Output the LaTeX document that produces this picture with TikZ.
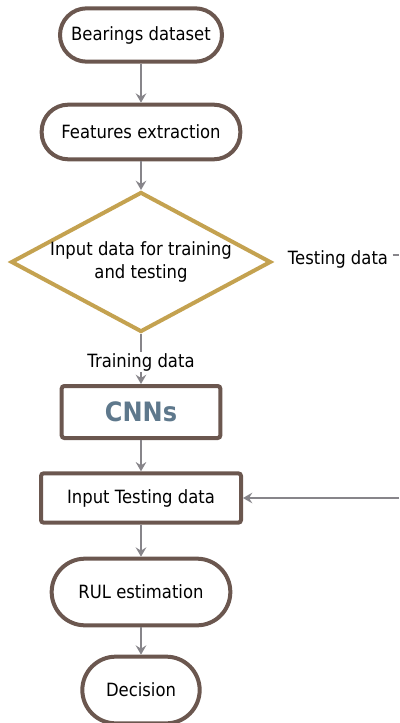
\documentclass[tikz,border=0pt]{standalone}
\usepackage{fontspec}
\setmainfont{DejaVu Sans}[FakeStretch=0.9]
\usepackage{tikz}
\usetikzlibrary{arrows.meta, positioning, shapes.geometric}
\definecolor{fcbrown}{RGB}{107,87,79}
\definecolor{fcgold}{RGB}{196,162,80}
\definecolor{fcgray}{RGB}{135,133,138}
\definecolor{fcslate}{RGB}{94,120,140}

\begin{document}
\begin{tikzpicture}[x=0.75pt, y=-0.75pt,
  every node/.style={font=\fontsize{13.7}{17}\selectfont},
  pill/.style={draw=fcbrown, line width=3pt, fill=white, align=center, inner sep=2pt},
  block/.style={draw=fcbrown, line width=3pt, fill=white, rounded corners=2pt, align=center},
  flow/.style={-{Stealth[length=7pt, width=8pt, inset=2.5pt]}, fcgray, line width=1pt}]
  \useasboundingbox (0,0) rectangle (399,723);

  % Start: dataset
  \node[pill, rounded corners=20pt, minimum width=121.5pt, minimum height=40pt] (data) at (141,35)
    {Bearings dataset};
  % Feature extraction
  \node[pill, rounded corners=20pt, minimum width=149pt, minimum height=41pt] (feat) at (141,132)
    {Features extraction};
  % Split of the data
  \node[diamond, draw=fcgold, line width=3pt, aspect=1.83, inner sep=0pt,
        minimum width=195pt, minimum height=105pt, align=center] (split) at (141,262)
    {Input data for training\\and testing};
  \node (test) at (338,259) {Testing data};
  \coordinate (tedge) at (399,255);
  \coordinate (tback) at (399,498);
  % Model
  \node[block, minimum width=119pt, minimum height=39pt,
        font=\fontsize{20}{24}\selectfont\bfseries, text=fcslate] (cnn) at (141,412) {CNNs};
  \node[block, minimum width=150pt, minimum height=37pt] (tin) at (141,498)
    {Input Testing data};
  % Output
  \node[pill, rounded corners=25pt, minimum width=134pt, minimum height=50pt] (rul) at (141,592)
    {RUL estimation};
  \node[pill, rounded corners=25pt, minimum width=88pt, minimum height=50pt] (dec) at (141,690)
    {Decision};

  % Main chain
  \draw[flow] (data) -- (feat);
  \draw[flow] (feat) -- (split);
  \draw[flow] (split) -- (cnn)
    node[pos=0.56, fill=white, text=black, inner sep=1pt] {Training data};
  \draw[flow] (cnn) -- (tin);
  \draw[flow] (tin) -- (rul);
  \draw[flow] (rul) -- (dec);

  % Testing branch
  \draw[fcgray, line width=1pt] (test.east |- tedge) -- (tedge);
  \draw[flow] (tback) -- (tin);
\end{tikzpicture}
\end{document}
